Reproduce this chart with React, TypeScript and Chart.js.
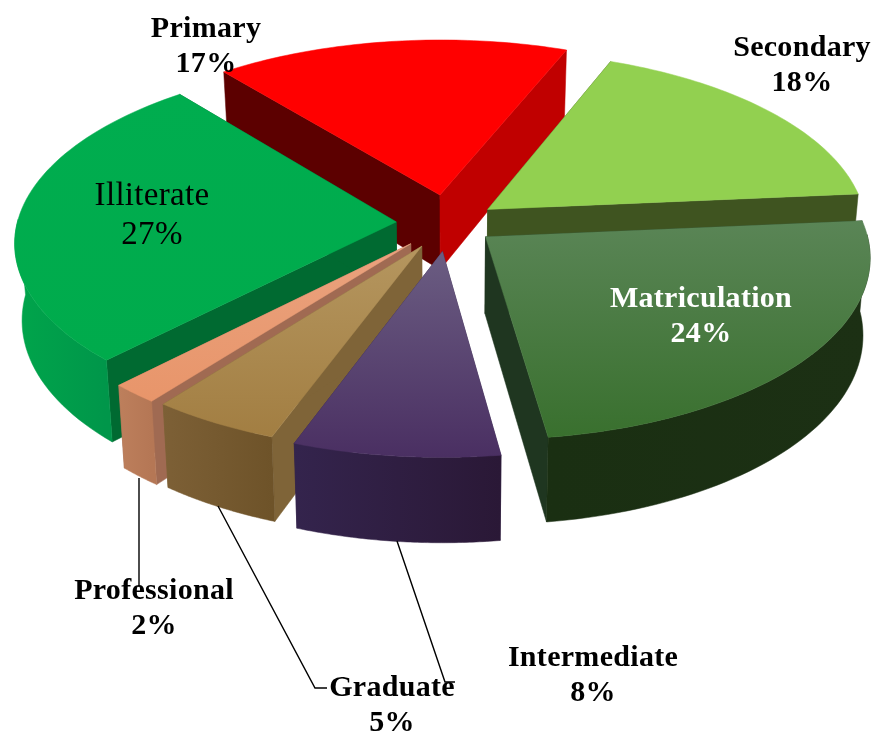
import React, { useEffect, useRef } from "react";
import { Chart, registerables } from "chart.js";

Chart.register(...registerables);

const categories = ["Illiterate", "Primary", "Secondary", "Matriculation", "Intermediate", "Graduate", "Professional"];
const shares = [26.7, 17.1, 17.5, 24.2, 7.9, 4.9, 1.8];
const explode = [48, 55, 44, 42, 54, 50, 52];

const topStart = ["#00ad4f", "#ff0000", "#92d050", "#5a8556", "#6b5d82", "#b5965f", "#eaa27e"];
const topEnd = ["#00ab4c", "#ff0000", "#92d050", "#39702e", "#4a2f62", "#a27e42", "#e8956a"];
const wallStart = ["#006a31", "#5c0000", "#3f5420", "#1a2f12", "#2f1f45", "#7f6438", "#a06a52"];
const wallEnd = ["#006a31", "#c00000", "#3f5420", "#1f3620", "#2f1f45", "#7f6438", "#a06a52"];
const wallLeft = ["#00a54b", "#c00000", "#3f5420", "#1a2f12", "#34244d", "#7d6036", "#bd7f5c"];
const wallRight = ["#00964a", "#c00000", "#3f5420", "#1c3014", "#2a1836", "#6e5329", "#b57755"];

const labelAnchors: Record<string, [number, number]> = {
  Illiterate: [152, 196],
  Primary: [206, 29],
  Secondary: [802, 48],
  Matriculation: [701, 299],
  Intermediate: [593, 658],
  Graduate: [392, 688],
  Professional: [154, 591],
};
const leaderLines: [number, number][][] = [
  [[139, 478], [139, 587]],
  [[218, 506], [315, 688], [327, 688]],
  [[397, 541], [445, 682], [455, 682]],
];

const CX = 449, CY = 223, R = 379, SQUASH = 0.476, PERSP = 0.107, DEPTH = 76, TAPER = 0.017;

const pie3d = {
  id: "pie3d",
  beforeDatasetsDraw(chart: any) {
    const ctx: CanvasRenderingContext2D = chart.ctx;
    const arcs: any[] = chart.getDatasetMeta(0).data;
    const project = (nx: number, ny: number, drop = 0): [number, number] => {
      const f = 1 + PERSP * ny;
      return [CX + R * nx * f * (1 - TAPER * drop), CY + R * SQUASH * ny * f + DEPTH * f * drop];
    };
    const fillPoly = (pts: [number, number][], style: any) => {
      ctx.beginPath();
      pts.forEach((p, i) => (i ? ctx.lineTo(p[0], p[1]) : ctx.moveTo(p[0], p[1])));
      ctx.closePath();
      ctx.fillStyle = style;
      ctx.strokeStyle = style;
      ctx.lineWidth = 0.5;
      ctx.fill();
      ctx.stroke();
    };
    const order = arcs
      .map((a, i) => ({ a, i, m: Math.sin((a.startAngle + a.endAngle) / 2) }))
      .sort((p, q) => p.m - q.m);
    for (const { a, i } of order) {
      const mid = (a.startAngle + a.endAngle) / 2;
      const rad = a.outerRadius;
      const off = a.options.offset / rad;
      const ax = off * Math.cos(mid), ay = off * Math.sin(mid);
      const rim: [number, number][] = [];
      const front: [number, number][] = [];
      const STEPS = 60;
      for (let k = 0; k <= STEPS; k++) {
        const t = a.startAngle + ((a.endAngle - a.startAngle) * k) / STEPS;
        const n: [number, number] = [ax + Math.cos(t), ay + Math.sin(t)];
        rim.push(n);
        if (Math.sin(t) > -0.03) front.push(n);
      }
      const top = (n: [number, number]) => project(n[0], n[1], 0);
      const low = (n: [number, number]) => project(n[0], n[1], 1);
      const apex: [number, number] = [ax, ay];
      const s = rim[0], e = rim[STEPS];
      fillPoly([top(apex), top(s), low(s), low(apex)], wallStart[i]);
      fillPoly([top(apex), top(e), low(e), low(apex)], wallEnd[i]);
      const rimTop = rim.map(top);
      if (front.length > 1) {
        const frontTop = front.map(top);
        const frontLow = front.map(low);
        const xs = frontTop.map((p) => p[0]);
        const gw = ctx.createLinearGradient(Math.min(...xs), 0, Math.max(...xs), 0);
        gw.addColorStop(0, wallLeft[i]);
        gw.addColorStop(1, wallRight[i]);
        fillPoly([...frontTop, ...frontLow.slice().reverse()], gw);
      }
      const face: [number, number][] = [top(apex), ...rimTop];
      const ys = face.map((p) => p[1]);
      const gt = ctx.createLinearGradient(0, Math.min(...ys), 0, Math.max(...ys));
      gt.addColorStop(0, topStart[i]);
      gt.addColorStop(1, topEnd[i]);
      fillPoly(face, gt);
    }
    ctx.strokeStyle = "#000";
    ctx.lineWidth = 1.4;
    leaderLines.forEach((line) => {
      ctx.beginPath();
      line.forEach((p, i) => (i ? ctx.lineTo(p[0], p[1]) : ctx.moveTo(p[0], p[1])));
      ctx.stroke();
    });
    ctx.textAlign = "center";
    ctx.textBaseline = "middle";
    (ctx as any).letterSpacing = "0.3px";
    categories.forEach((name, i) => {
      const [x, y] = labelAnchors[name];
      const plain = name === "Illiterate";
      ctx.fillStyle = name === "Matriculation" ? "#ffffff" : "#000000";
      ctx.font = plain ? "33px 'Liberation Serif'" : "bold 30px 'Liberation Serif'";
      ctx.fillText(name, x, y);
      ctx.fillText(`${Math.round(shares[i])}%`, x, y + (plain ? 39 : 35));
    });
    return false;
  },
};

export default function App() {
  const ref = useRef<HTMLCanvasElement>(null);
  useEffect(() => {
    const chart = new Chart(ref.current!, {
      type: "pie",
      data: {
        labels: categories,
        datasets: [{ data: shares, offset: explode, borderWidth: 0, backgroundColor: topEnd }],
      },
      options: {
        responsive: false,
        animation: false,
        rotation: -135.5,
        layout: { padding: 0 },
        plugins: { legend: { display: false }, tooltip: { enabled: false }, title: { display: false } },
      },
      plugins: [pie3d],
    } as any);
    return () => chart.destroy();
  }, []);
  return (
    <div style={{ position: "absolute", left: 0, top: 0, width: 884, height: 743, background: "#fff" }}>
      <canvas ref={ref} width={884} height={743} style={{ display: "block" }} />
    </div>
  );
}
